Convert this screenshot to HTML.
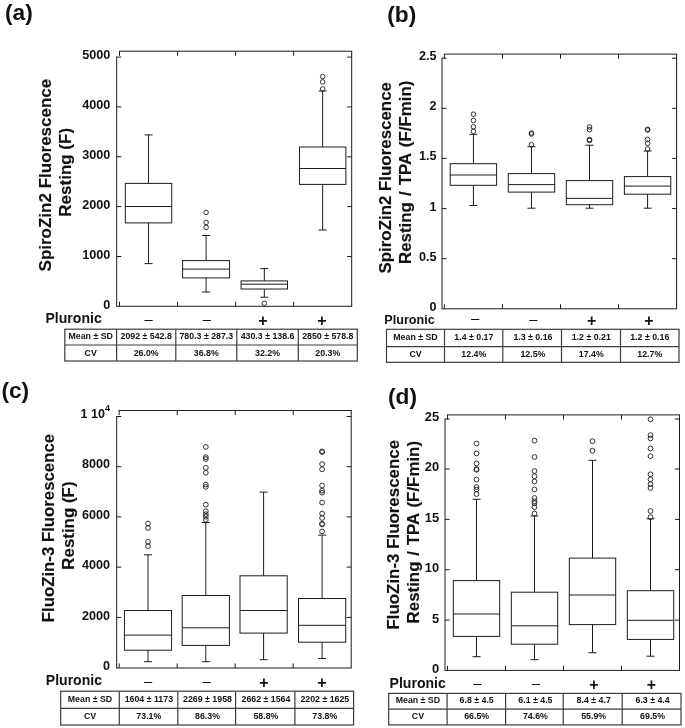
<!DOCTYPE html>
<html lang="en">
<head>
<meta charset="utf-8">
<title>Box plots: SpiroZin2 and FluoZin-3 fluorescence with and without Pluronic</title>
<style>
html,body{margin:0;padding:0;background:#fff;}
body{width:685px;height:728px;overflow:hidden;font-family:"Liberation Sans",Arial,sans-serif;}
svg{display:block;}
svg text{font-family:"Liberation Sans",Arial,sans-serif;}
</style>
</head>
<body>
<svg width="685" height="728" viewBox="0 0 685 728" font-family="'Liberation Sans', Arial, sans-serif" fill="#111">
<rect width="685" height="728" fill="#fff"/>
<g>
<line x1="116.7" y1="56.6" x2="116.7" y2="306.3" stroke="#1c1c1c" stroke-width="1"/>
<line x1="116.2" y1="306.3" x2="352.2" y2="306.3" stroke="#1c1c1c" stroke-width="1"/>
<line x1="119" y1="51.2" x2="352.2" y2="51.2" stroke="#1c1c1c" stroke-width="1"/>
<line x1="351.7" y1="51.2" x2="351.7" y2="306.3" stroke="#1c1c1c" stroke-width="1"/>
<line x1="119.5" y1="51.2" x2="119.5" y2="55.8" stroke="#1c1c1c" stroke-width="1"/>
<line x1="119.5" y1="306.3" x2="119.5" y2="301.7" stroke="#1c1c1c" stroke-width="1"/>
<line x1="177.55" y1="51.2" x2="177.55" y2="55.8" stroke="#1c1c1c" stroke-width="1"/>
<line x1="177.55" y1="306.3" x2="177.55" y2="301.7" stroke="#1c1c1c" stroke-width="1"/>
<line x1="235.6" y1="51.2" x2="235.6" y2="55.8" stroke="#1c1c1c" stroke-width="1"/>
<line x1="235.6" y1="306.3" x2="235.6" y2="301.7" stroke="#1c1c1c" stroke-width="1"/>
<line x1="293.65" y1="51.2" x2="293.65" y2="55.8" stroke="#1c1c1c" stroke-width="1"/>
<line x1="293.65" y1="306.3" x2="293.65" y2="301.7" stroke="#1c1c1c" stroke-width="1"/>
<line x1="116.7" y1="57.1" x2="121.3" y2="57.1" stroke="#1c1c1c" stroke-width="1"/>
<line x1="351.7" y1="57.1" x2="347.1" y2="57.1" stroke="#1c1c1c" stroke-width="1"/>
<text x="110.4" y="59" font-size="12.7" text-anchor="end" font-weight="bold">5000</text>
<line x1="116.7" y1="106.9" x2="121.3" y2="106.9" stroke="#1c1c1c" stroke-width="1"/>
<line x1="351.7" y1="106.9" x2="347.1" y2="106.9" stroke="#1c1c1c" stroke-width="1"/>
<text x="110.4" y="109" font-size="12.7" text-anchor="end" font-weight="bold">4000</text>
<line x1="116.7" y1="156.8" x2="121.3" y2="156.8" stroke="#1c1c1c" stroke-width="1"/>
<line x1="351.7" y1="156.8" x2="347.1" y2="156.8" stroke="#1c1c1c" stroke-width="1"/>
<text x="110.4" y="159" font-size="12.7" text-anchor="end" font-weight="bold">3000</text>
<line x1="116.7" y1="206.6" x2="121.3" y2="206.6" stroke="#1c1c1c" stroke-width="1"/>
<line x1="351.7" y1="206.6" x2="347.1" y2="206.6" stroke="#1c1c1c" stroke-width="1"/>
<text x="110.4" y="209" font-size="12.7" text-anchor="end" font-weight="bold">2000</text>
<line x1="116.7" y1="256.5" x2="121.3" y2="256.5" stroke="#1c1c1c" stroke-width="1"/>
<line x1="351.7" y1="256.5" x2="347.1" y2="256.5" stroke="#1c1c1c" stroke-width="1"/>
<text x="110.4" y="259" font-size="12.7" text-anchor="end" font-weight="bold">1000</text>
<text x="110.4" y="309" font-size="12.7" text-anchor="end" font-weight="bold">0</text>
<rect x="125.33" y="183.4" width="46.4" height="39.5" fill="#fff" stroke="#1c1c1c" stroke-width="1"/>
<line x1="125.33" y1="206.5" x2="171.72" y2="206.5" stroke="#1c1c1c" stroke-width="1"/>
<line x1="148.53" y1="183.4" x2="148.53" y2="134.9" stroke="#1c1c1c" stroke-width="1"/>
<line x1="148.53" y1="222.9" x2="148.53" y2="263.6" stroke="#1c1c1c" stroke-width="1"/>
<line x1="144.53" y1="134.9" x2="152.53" y2="134.9" stroke="#1c1c1c" stroke-width="1"/>
<line x1="144.53" y1="263.6" x2="152.53" y2="263.6" stroke="#1c1c1c" stroke-width="1"/>
<rect x="182.6" y="260.6" width="47" height="17.3" fill="#fff" stroke="#1c1c1c" stroke-width="1"/>
<line x1="182.6" y1="269.1" x2="229.6" y2="269.1" stroke="#1c1c1c" stroke-width="1"/>
<line x1="206.1" y1="260.6" x2="206.1" y2="235.5" stroke="#1c1c1c" stroke-width="1"/>
<line x1="206.1" y1="277.9" x2="206.1" y2="292" stroke="#1c1c1c" stroke-width="1"/>
<line x1="202.1" y1="235.5" x2="210.1" y2="235.5" stroke="#1c1c1c" stroke-width="1"/>
<line x1="202.1" y1="292" x2="210.1" y2="292" stroke="#1c1c1c" stroke-width="1"/>
<circle cx="206.1" cy="212.4" r="2.3" fill="none" stroke="#1c1c1c" stroke-width="0.9"/>
<circle cx="206.1" cy="222.5" r="2.3" fill="none" stroke="#1c1c1c" stroke-width="0.9"/>
<circle cx="206.1" cy="227.3" r="2.3" fill="none" stroke="#1c1c1c" stroke-width="0.9"/>
<rect x="241.1" y="280.9" width="46.4" height="8.1" fill="#fff" stroke="#1c1c1c" stroke-width="1"/>
<line x1="241.1" y1="284.2" x2="287.5" y2="284.2" stroke="#1c1c1c" stroke-width="1"/>
<line x1="264.3" y1="280.9" x2="264.3" y2="268.6" stroke="#1c1c1c" stroke-width="1"/>
<line x1="264.3" y1="289" x2="264.3" y2="297.2" stroke="#1c1c1c" stroke-width="1"/>
<line x1="260.3" y1="268.6" x2="268.3" y2="268.6" stroke="#1c1c1c" stroke-width="1"/>
<line x1="260.3" y1="297.2" x2="268.3" y2="297.2" stroke="#1c1c1c" stroke-width="1"/>
<circle cx="264.3" cy="303.3" r="2.3" fill="none" stroke="#1c1c1c" stroke-width="0.9"/>
<rect x="299.47" y="147" width="46.4" height="37.4" fill="#fff" stroke="#1c1c1c" stroke-width="1"/>
<line x1="299.47" y1="168.5" x2="345.87" y2="168.5" stroke="#1c1c1c" stroke-width="1"/>
<line x1="322.67" y1="147" x2="322.67" y2="91" stroke="#1c1c1c" stroke-width="1"/>
<line x1="322.67" y1="184.4" x2="322.67" y2="230" stroke="#1c1c1c" stroke-width="1"/>
<line x1="318.67" y1="91" x2="326.67" y2="91" stroke="#1c1c1c" stroke-width="1"/>
<line x1="318.67" y1="230" x2="326.67" y2="230" stroke="#1c1c1c" stroke-width="1"/>
<circle cx="322.67" cy="76.6" r="2.3" fill="none" stroke="#1c1c1c" stroke-width="0.9"/>
<circle cx="322.67" cy="81.9" r="2.3" fill="none" stroke="#1c1c1c" stroke-width="0.9"/>
<circle cx="322.67" cy="88.9" r="2.3" fill="none" stroke="#1c1c1c" stroke-width="0.9"/>
<text x="148.5" y="323.55" font-size="14.8" text-anchor="middle" font-weight="normal">–</text>
<text x="206.9" y="323.55" font-size="14.8" text-anchor="middle" font-weight="normal">–</text>
<text x="262.9" y="326" font-size="16" text-anchor="middle" font-weight="bold">+</text>
<text x="322" y="326" font-size="16" text-anchor="middle" font-weight="bold">+</text>
<text x="45.5" y="323.4" font-size="14.05" text-anchor="start" font-weight="bold">Pluronic</text>
<text transform="translate(50.6 175.1) rotate(-90)" font-size="17" text-anchor="middle" font-weight="bold" stroke="#111" stroke-width="0.12">SpiroZin2 Fluorescence</text>
<text transform="translate(70.5 172.3) rotate(-90)" font-size="17" text-anchor="middle" font-weight="bold" stroke="#111" stroke-width="0.12">Resting (F)</text>
<text x="5" y="19.9" font-size="22.7" text-anchor="start" font-weight="bold">(a)</text>
<rect x="64.8" y="329.2" width="292.5" height="31.8" fill="#fff" stroke="#3c3c3c" stroke-width="1.2"/>
<line x1="116.6" y1="329.2" x2="116.6" y2="361" stroke="#3c3c3c" stroke-width="1.2"/>
<line x1="175.8" y1="329.2" x2="175.8" y2="361" stroke="#3c3c3c" stroke-width="1.2"/>
<line x1="236.8" y1="329.2" x2="236.8" y2="361" stroke="#3c3c3c" stroke-width="1.2"/>
<line x1="298.3" y1="329.2" x2="298.3" y2="361" stroke="#3c3c3c" stroke-width="1.2"/>
<line x1="64.8" y1="345" x2="357.3" y2="345" stroke="#3c3c3c" stroke-width="1.2"/>
<text x="90.7" y="339.3" font-size="8.8" text-anchor="middle" font-weight="bold">Mean ± SD</text>
<text x="146.2" y="339.3" font-size="8.8" text-anchor="middle" font-weight="bold">2092 ± 542.8</text>
<text x="206.3" y="339.3" font-size="8.8" text-anchor="middle" font-weight="bold">780.3 ± 287.3</text>
<text x="267.55" y="339.3" font-size="8.8" text-anchor="middle" font-weight="bold">430.3 ± 138.6</text>
<text x="327.8" y="339.3" font-size="8.8" text-anchor="middle" font-weight="bold">2850 ± 578.8</text>
<text x="90.7" y="355.8" font-size="8.8" text-anchor="middle" font-weight="bold">CV</text>
<text x="146.2" y="355.8" font-size="8.8" text-anchor="middle" font-weight="bold">26.0%</text>
<text x="206.3" y="355.8" font-size="8.8" text-anchor="middle" font-weight="bold">36.8%</text>
<text x="267.55" y="355.8" font-size="8.8" text-anchor="middle" font-weight="bold">32.2%</text>
<text x="327.8" y="355.8" font-size="8.8" text-anchor="middle" font-weight="bold">20.3%</text>
</g>
<g>
<line x1="442" y1="57.7" x2="442" y2="308.8" stroke="#1c1c1c" stroke-width="1"/>
<line x1="441.5" y1="308.8" x2="677.1" y2="308.8" stroke="#1c1c1c" stroke-width="1"/>
<line x1="443.9" y1="54.1" x2="677.1" y2="54.1" stroke="#1c1c1c" stroke-width="1"/>
<line x1="676.6" y1="54.1" x2="676.6" y2="308.8" stroke="#1c1c1c" stroke-width="1"/>
<line x1="444.4" y1="54.1" x2="444.4" y2="58.7" stroke="#1c1c1c" stroke-width="1"/>
<line x1="444.4" y1="308.8" x2="444.4" y2="304.2" stroke="#1c1c1c" stroke-width="1"/>
<line x1="502.45" y1="54.1" x2="502.45" y2="58.7" stroke="#1c1c1c" stroke-width="1"/>
<line x1="502.45" y1="308.8" x2="502.45" y2="304.2" stroke="#1c1c1c" stroke-width="1"/>
<line x1="560.5" y1="54.1" x2="560.5" y2="58.7" stroke="#1c1c1c" stroke-width="1"/>
<line x1="560.5" y1="308.8" x2="560.5" y2="304.2" stroke="#1c1c1c" stroke-width="1"/>
<line x1="618.55" y1="54.1" x2="618.55" y2="58.7" stroke="#1c1c1c" stroke-width="1"/>
<line x1="618.55" y1="308.8" x2="618.55" y2="304.2" stroke="#1c1c1c" stroke-width="1"/>
<line x1="442" y1="58.2" x2="446.6" y2="58.2" stroke="#1c1c1c" stroke-width="1"/>
<line x1="676.6" y1="58.2" x2="672" y2="58.2" stroke="#1c1c1c" stroke-width="1"/>
<text x="436.4" y="60" font-size="12.6" text-anchor="end" font-weight="bold">2.5</text>
<line x1="442" y1="108.3" x2="446.6" y2="108.3" stroke="#1c1c1c" stroke-width="1"/>
<line x1="676.6" y1="108.3" x2="672" y2="108.3" stroke="#1c1c1c" stroke-width="1"/>
<text x="436.4" y="110" font-size="12.6" text-anchor="end" font-weight="bold">2</text>
<line x1="442" y1="158.4" x2="446.6" y2="158.4" stroke="#1c1c1c" stroke-width="1"/>
<line x1="676.6" y1="158.4" x2="672" y2="158.4" stroke="#1c1c1c" stroke-width="1"/>
<text x="436.4" y="160" font-size="12.6" text-anchor="end" font-weight="bold">1.5</text>
<line x1="442" y1="208.6" x2="446.6" y2="208.6" stroke="#1c1c1c" stroke-width="1"/>
<line x1="676.6" y1="208.6" x2="672" y2="208.6" stroke="#1c1c1c" stroke-width="1"/>
<text x="436.4" y="211" font-size="12.6" text-anchor="end" font-weight="bold">1</text>
<line x1="442" y1="258.7" x2="446.6" y2="258.7" stroke="#1c1c1c" stroke-width="1"/>
<line x1="676.6" y1="258.7" x2="672" y2="258.7" stroke="#1c1c1c" stroke-width="1"/>
<text x="436.4" y="261" font-size="12.6" text-anchor="end" font-weight="bold">0.5</text>
<text x="436.4" y="311" font-size="12.6" text-anchor="end" font-weight="bold">0</text>
<rect x="450.22" y="163.7" width="46.4" height="21.6" fill="#fff" stroke="#1c1c1c" stroke-width="1"/>
<line x1="450.22" y1="175" x2="496.62" y2="175" stroke="#1c1c1c" stroke-width="1"/>
<line x1="473.42" y1="163.7" x2="473.42" y2="134.3" stroke="#1c1c1c" stroke-width="1"/>
<line x1="473.42" y1="185.3" x2="473.42" y2="205.5" stroke="#1c1c1c" stroke-width="1"/>
<line x1="469.42" y1="134.3" x2="477.42" y2="134.3" stroke="#1c1c1c" stroke-width="1"/>
<line x1="469.42" y1="205.5" x2="477.42" y2="205.5" stroke="#1c1c1c" stroke-width="1"/>
<circle cx="473.42" cy="114.2" r="2.3" fill="none" stroke="#1c1c1c" stroke-width="0.9"/>
<circle cx="473.42" cy="120.5" r="2.3" fill="none" stroke="#1c1c1c" stroke-width="0.9"/>
<circle cx="473.42" cy="126.8" r="2.3" fill="none" stroke="#1c1c1c" stroke-width="0.9"/>
<circle cx="473.42" cy="131.3" r="2.3" fill="none" stroke="#1c1c1c" stroke-width="0.9"/>
<rect x="508.28" y="173.6" width="46.4" height="18.5" fill="#fff" stroke="#1c1c1c" stroke-width="1"/>
<line x1="508.28" y1="184.6" x2="554.68" y2="184.6" stroke="#1c1c1c" stroke-width="1"/>
<line x1="531.48" y1="173.6" x2="531.48" y2="146.7" stroke="#1c1c1c" stroke-width="1"/>
<line x1="531.48" y1="192.1" x2="531.48" y2="208.2" stroke="#1c1c1c" stroke-width="1"/>
<line x1="527.48" y1="146.7" x2="535.48" y2="146.7" stroke="#1c1c1c" stroke-width="1"/>
<line x1="527.48" y1="208.2" x2="535.48" y2="208.2" stroke="#1c1c1c" stroke-width="1"/>
<circle cx="531.48" cy="133" r="2.3" fill="none" stroke="#1c1c1c" stroke-width="0.9"/>
<circle cx="531.48" cy="134" r="2.3" fill="none" stroke="#1c1c1c" stroke-width="0.9"/>
<circle cx="531.48" cy="144.7" r="2.3" fill="none" stroke="#1c1c1c" stroke-width="0.9"/>
<rect x="566.32" y="180.6" width="46.4" height="24.1" fill="#fff" stroke="#1c1c1c" stroke-width="1"/>
<line x1="566.32" y1="198.4" x2="612.73" y2="198.4" stroke="#1c1c1c" stroke-width="1"/>
<line x1="589.52" y1="180.6" x2="589.52" y2="145.2" stroke="#1c1c1c" stroke-width="1"/>
<line x1="589.52" y1="204.7" x2="589.52" y2="208.2" stroke="#1c1c1c" stroke-width="1"/>
<line x1="585.52" y1="145.2" x2="593.52" y2="145.2" stroke="#1c1c1c" stroke-width="1"/>
<line x1="585.52" y1="208.2" x2="593.52" y2="208.2" stroke="#1c1c1c" stroke-width="1"/>
<circle cx="589.52" cy="127" r="2.3" fill="none" stroke="#1c1c1c" stroke-width="0.9"/>
<circle cx="589.52" cy="129.7" r="2.3" fill="none" stroke="#1c1c1c" stroke-width="0.9"/>
<circle cx="589.52" cy="139.5" r="2.3" fill="none" stroke="#1c1c1c" stroke-width="0.9"/>
<circle cx="589.52" cy="140.5" r="2.3" fill="none" stroke="#1c1c1c" stroke-width="0.9"/>
<rect x="624.38" y="176.6" width="46.4" height="17.6" fill="#fff" stroke="#1c1c1c" stroke-width="1"/>
<line x1="624.38" y1="186.1" x2="670.78" y2="186.1" stroke="#1c1c1c" stroke-width="1"/>
<line x1="647.58" y1="176.6" x2="647.58" y2="151" stroke="#1c1c1c" stroke-width="1"/>
<line x1="647.58" y1="194.2" x2="647.58" y2="208.2" stroke="#1c1c1c" stroke-width="1"/>
<line x1="643.58" y1="151" x2="651.58" y2="151" stroke="#1c1c1c" stroke-width="1"/>
<line x1="643.58" y1="208.2" x2="651.58" y2="208.2" stroke="#1c1c1c" stroke-width="1"/>
<circle cx="647.58" cy="129.3" r="2.3" fill="none" stroke="#1c1c1c" stroke-width="0.9"/>
<circle cx="647.58" cy="130" r="2.3" fill="none" stroke="#1c1c1c" stroke-width="0.9"/>
<circle cx="647.58" cy="139.4" r="2.3" fill="none" stroke="#1c1c1c" stroke-width="0.9"/>
<circle cx="647.58" cy="143.4" r="2.3" fill="none" stroke="#1c1c1c" stroke-width="0.9"/>
<circle cx="647.58" cy="149" r="2.3" fill="none" stroke="#1c1c1c" stroke-width="0.9"/>
<text x="475.1" y="323.45" font-size="14.8" text-anchor="middle" font-weight="normal">–</text>
<text x="533.4" y="324.15" font-size="14.8" text-anchor="middle" font-weight="normal">–</text>
<text x="591.7" y="325.5" font-size="16" text-anchor="middle" font-weight="bold">+</text>
<text x="648.8" y="326.3" font-size="16" text-anchor="middle" font-weight="bold">+</text>
<text x="384.3" y="323.7" font-size="12.6" text-anchor="start" font-weight="bold">Pluronic</text>
<text transform="translate(391.4 177.8) rotate(-90)" font-size="16.9" text-anchor="middle" font-weight="bold" stroke="#111" stroke-width="0.12">SpiroZin2 Fluorescence</text>
<text transform="translate(411.1 172.35) rotate(-90)" font-size="16.9" text-anchor="middle" font-weight="bold" stroke="#111" stroke-width="0.12" word-spacing="1.4">Resting / TPA (F/Fmin)</text>
<text x="387.3" y="22" font-size="22.7" text-anchor="start" font-weight="bold">(b)</text>
<rect x="386.5" y="329.3" width="292.5" height="33" fill="#fff" stroke="#3c3c3c" stroke-width="1.2"/>
<line x1="444.5" y1="329.3" x2="444.5" y2="362.3" stroke="#3c3c3c" stroke-width="1.2"/>
<line x1="502.8" y1="329.3" x2="502.8" y2="362.3" stroke="#3c3c3c" stroke-width="1.2"/>
<line x1="561.5" y1="329.3" x2="561.5" y2="362.3" stroke="#3c3c3c" stroke-width="1.2"/>
<line x1="620.5" y1="329.3" x2="620.5" y2="362.3" stroke="#3c3c3c" stroke-width="1.2"/>
<line x1="386.5" y1="346.7" x2="679" y2="346.7" stroke="#3c3c3c" stroke-width="1.2"/>
<text x="415.5" y="339.6" font-size="8.8" text-anchor="middle" font-weight="bold">Mean ± SD</text>
<text x="473.85" y="339.6" font-size="8.8" text-anchor="middle" font-weight="bold">1.4 ± 0.17</text>
<text x="532.95" y="339.6" font-size="8.8" text-anchor="middle" font-weight="bold">1.3 ± 0.16</text>
<text x="591.3" y="339.6" font-size="8.8" text-anchor="middle" font-weight="bold">1.2 ± 0.21</text>
<text x="649.75" y="339.6" font-size="8.8" text-anchor="middle" font-weight="bold">1.2 ± 0.16</text>
<text x="415.5" y="356.7" font-size="8.8" text-anchor="middle" font-weight="bold">CV</text>
<text x="473.85" y="356.7" font-size="8.8" text-anchor="middle" font-weight="bold">12.4%</text>
<text x="532.95" y="356.7" font-size="8.8" text-anchor="middle" font-weight="bold">12.5%</text>
<text x="591.3" y="356.7" font-size="8.8" text-anchor="middle" font-weight="bold">17.4%</text>
<text x="649.75" y="356.7" font-size="8.8" text-anchor="middle" font-weight="bold">12.7%</text>
</g>
<g>
<line x1="116.7" y1="416" x2="116.7" y2="668" stroke="#1c1c1c" stroke-width="1"/>
<line x1="116.2" y1="668" x2="351.7" y2="668" stroke="#1c1c1c" stroke-width="1"/>
<line x1="118.7" y1="410.5" x2="351.7" y2="410.5" stroke="#1c1c1c" stroke-width="1"/>
<line x1="351.2" y1="410.5" x2="351.2" y2="668" stroke="#1c1c1c" stroke-width="1"/>
<line x1="119.2" y1="410.5" x2="119.2" y2="415.1" stroke="#1c1c1c" stroke-width="1"/>
<line x1="119.2" y1="668" x2="119.2" y2="663.4" stroke="#1c1c1c" stroke-width="1"/>
<line x1="177.2" y1="410.5" x2="177.2" y2="415.1" stroke="#1c1c1c" stroke-width="1"/>
<line x1="177.2" y1="668" x2="177.2" y2="663.4" stroke="#1c1c1c" stroke-width="1"/>
<line x1="235.2" y1="410.5" x2="235.2" y2="415.1" stroke="#1c1c1c" stroke-width="1"/>
<line x1="235.2" y1="668" x2="235.2" y2="663.4" stroke="#1c1c1c" stroke-width="1"/>
<line x1="293.2" y1="410.5" x2="293.2" y2="415.1" stroke="#1c1c1c" stroke-width="1"/>
<line x1="293.2" y1="668" x2="293.2" y2="663.4" stroke="#1c1c1c" stroke-width="1"/>
<line x1="116.7" y1="416.5" x2="121.3" y2="416.5" stroke="#1c1c1c" stroke-width="1"/>
<line x1="351.2" y1="416.5" x2="346.6" y2="416.5" stroke="#1c1c1c" stroke-width="1"/>
<text x="110" y="418" font-size="12.6" text-anchor="end" font-weight="bold">1 10<tspan dy="-6.6" font-size="9.1">4</tspan></text>
<line x1="116.7" y1="466.7" x2="121.3" y2="466.7" stroke="#1c1c1c" stroke-width="1"/>
<line x1="351.2" y1="466.7" x2="346.6" y2="466.7" stroke="#1c1c1c" stroke-width="1"/>
<text x="110" y="468" font-size="12.6" text-anchor="end" font-weight="bold">8000</text>
<line x1="116.7" y1="516.9" x2="121.3" y2="516.9" stroke="#1c1c1c" stroke-width="1"/>
<line x1="351.2" y1="516.9" x2="346.6" y2="516.9" stroke="#1c1c1c" stroke-width="1"/>
<text x="110" y="519" font-size="12.6" text-anchor="end" font-weight="bold">6000</text>
<line x1="116.7" y1="567.1" x2="121.3" y2="567.1" stroke="#1c1c1c" stroke-width="1"/>
<line x1="351.2" y1="567.1" x2="346.6" y2="567.1" stroke="#1c1c1c" stroke-width="1"/>
<text x="110" y="569" font-size="12.6" text-anchor="end" font-weight="bold">4000</text>
<line x1="116.7" y1="617.4" x2="121.3" y2="617.4" stroke="#1c1c1c" stroke-width="1"/>
<line x1="351.2" y1="617.4" x2="346.6" y2="617.4" stroke="#1c1c1c" stroke-width="1"/>
<text x="110" y="620" font-size="12.6" text-anchor="end" font-weight="bold">2000</text>
<text x="110" y="670" font-size="12.6" text-anchor="end" font-weight="bold">0</text>
<rect x="124.4" y="610.5" width="47.2" height="39.7" fill="#fff" stroke="#1c1c1c" stroke-width="1"/>
<line x1="124.4" y1="635.1" x2="171.6" y2="635.1" stroke="#1c1c1c" stroke-width="1"/>
<line x1="148" y1="610.5" x2="148" y2="554.8" stroke="#1c1c1c" stroke-width="1"/>
<line x1="148" y1="650.2" x2="148" y2="661.7" stroke="#1c1c1c" stroke-width="1"/>
<line x1="144" y1="554.8" x2="152" y2="554.8" stroke="#1c1c1c" stroke-width="1"/>
<line x1="144" y1="661.7" x2="152" y2="661.7" stroke="#1c1c1c" stroke-width="1"/>
<circle cx="148" cy="523.5" r="2.4" fill="none" stroke="#1c1c1c" stroke-width="0.9"/>
<circle cx="148" cy="528" r="2.4" fill="none" stroke="#1c1c1c" stroke-width="0.9"/>
<circle cx="148" cy="541.9" r="2.4" fill="none" stroke="#1c1c1c" stroke-width="0.9"/>
<circle cx="148" cy="546.1" r="2.4" fill="none" stroke="#1c1c1c" stroke-width="0.9"/>
<rect x="182.2" y="595.5" width="47.2" height="49.9" fill="#fff" stroke="#1c1c1c" stroke-width="1"/>
<line x1="182.2" y1="627.8" x2="229.4" y2="627.8" stroke="#1c1c1c" stroke-width="1"/>
<line x1="205.8" y1="595.5" x2="205.8" y2="522.5" stroke="#1c1c1c" stroke-width="1"/>
<line x1="205.8" y1="645.4" x2="205.8" y2="661.7" stroke="#1c1c1c" stroke-width="1"/>
<line x1="201.8" y1="522.5" x2="209.8" y2="522.5" stroke="#1c1c1c" stroke-width="1"/>
<line x1="201.8" y1="661.7" x2="209.8" y2="661.7" stroke="#1c1c1c" stroke-width="1"/>
<circle cx="205.8" cy="446.9" r="2.4" fill="none" stroke="#1c1c1c" stroke-width="0.9"/>
<circle cx="205.8" cy="457.2" r="2.4" fill="none" stroke="#1c1c1c" stroke-width="0.9"/>
<circle cx="205.8" cy="459" r="2.4" fill="none" stroke="#1c1c1c" stroke-width="0.9"/>
<circle cx="205.8" cy="467.8" r="2.4" fill="none" stroke="#1c1c1c" stroke-width="0.9"/>
<circle cx="205.8" cy="472.8" r="2.4" fill="none" stroke="#1c1c1c" stroke-width="0.9"/>
<circle cx="205.8" cy="484.6" r="2.4" fill="none" stroke="#1c1c1c" stroke-width="0.9"/>
<circle cx="205.8" cy="486.9" r="2.4" fill="none" stroke="#1c1c1c" stroke-width="0.9"/>
<circle cx="205.8" cy="504.7" r="2.4" fill="none" stroke="#1c1c1c" stroke-width="0.9"/>
<circle cx="205.8" cy="511.2" r="2.4" fill="none" stroke="#1c1c1c" stroke-width="0.9"/>
<circle cx="205.8" cy="514.2" r="2.4" fill="none" stroke="#1c1c1c" stroke-width="0.9"/>
<circle cx="205.8" cy="516.7" r="2.4" fill="none" stroke="#1c1c1c" stroke-width="0.9"/>
<circle cx="205.8" cy="519.8" r="2.4" fill="none" stroke="#1c1c1c" stroke-width="0.9"/>
<rect x="240" y="575.8" width="47.2" height="57.3" fill="#fff" stroke="#1c1c1c" stroke-width="1"/>
<line x1="240" y1="610.5" x2="287.2" y2="610.5" stroke="#1c1c1c" stroke-width="1"/>
<line x1="263.6" y1="575.8" x2="263.6" y2="492.1" stroke="#1c1c1c" stroke-width="1"/>
<line x1="263.6" y1="633.1" x2="263.6" y2="659.7" stroke="#1c1c1c" stroke-width="1"/>
<line x1="259.6" y1="492.1" x2="267.6" y2="492.1" stroke="#1c1c1c" stroke-width="1"/>
<line x1="259.6" y1="659.7" x2="267.6" y2="659.7" stroke="#1c1c1c" stroke-width="1"/>
<rect x="298.5" y="598.5" width="47.2" height="43.7" fill="#fff" stroke="#1c1c1c" stroke-width="1"/>
<line x1="298.5" y1="625.3" x2="345.7" y2="625.3" stroke="#1c1c1c" stroke-width="1"/>
<line x1="322.1" y1="598.5" x2="322.1" y2="535.1" stroke="#1c1c1c" stroke-width="1"/>
<line x1="322.1" y1="642.2" x2="322.1" y2="658.5" stroke="#1c1c1c" stroke-width="1"/>
<line x1="318.1" y1="535.1" x2="326.1" y2="535.1" stroke="#1c1c1c" stroke-width="1"/>
<line x1="318.1" y1="658.5" x2="326.1" y2="658.5" stroke="#1c1c1c" stroke-width="1"/>
<circle cx="322.1" cy="451.4" r="2.4" fill="none" stroke="#1c1c1c" stroke-width="0.9"/>
<circle cx="322.1" cy="452" r="2.4" fill="none" stroke="#1c1c1c" stroke-width="0.9"/>
<circle cx="322.1" cy="464.1" r="2.4" fill="none" stroke="#1c1c1c" stroke-width="0.9"/>
<circle cx="322.1" cy="469.3" r="2.4" fill="none" stroke="#1c1c1c" stroke-width="0.9"/>
<circle cx="322.1" cy="485.5" r="2.4" fill="none" stroke="#1c1c1c" stroke-width="0.9"/>
<circle cx="322.1" cy="490.7" r="2.4" fill="none" stroke="#1c1c1c" stroke-width="0.9"/>
<circle cx="322.1" cy="492.7" r="2.4" fill="none" stroke="#1c1c1c" stroke-width="0.9"/>
<circle cx="322.1" cy="502.6" r="2.4" fill="none" stroke="#1c1c1c" stroke-width="0.9"/>
<circle cx="322.1" cy="513.6" r="2.4" fill="none" stroke="#1c1c1c" stroke-width="0.9"/>
<circle cx="322.1" cy="518" r="2.4" fill="none" stroke="#1c1c1c" stroke-width="0.9"/>
<circle cx="322.1" cy="523.8" r="2.4" fill="none" stroke="#1c1c1c" stroke-width="0.9"/>
<circle cx="322.1" cy="524.4" r="2.4" fill="none" stroke="#1c1c1c" stroke-width="0.9"/>
<circle cx="322.1" cy="531.4" r="2.4" fill="none" stroke="#1c1c1c" stroke-width="0.9"/>
<text x="148" y="685.65" font-size="14.8" text-anchor="middle" font-weight="normal">–</text>
<text x="206.5" y="685.65" font-size="14.8" text-anchor="middle" font-weight="normal">–</text>
<text x="263.9" y="688.3" font-size="16" text-anchor="middle" font-weight="bold">+</text>
<text x="321.9" y="688.3" font-size="16" text-anchor="middle" font-weight="bold">+</text>
<text x="45.8" y="684.8" font-size="14.05" text-anchor="start" font-weight="bold">Pluronic</text>
<text transform="translate(54.1 528.1) rotate(-90)" font-size="16.8" text-anchor="middle" font-weight="bold" stroke="#111" stroke-width="0.12">FluoZin-3 Fluorescence</text>
<text transform="translate(73.5 525.6) rotate(-90)" font-size="16.9" text-anchor="middle" font-weight="bold" stroke="#111" stroke-width="0.12">Resting (F)</text>
<text x="1.4" y="398.3" font-size="22.7" text-anchor="start" font-weight="bold">(c)</text>
<rect x="60.7" y="691.2" width="292.9" height="33.8" fill="#fff" stroke="#3c3c3c" stroke-width="1.2"/>
<line x1="119.3" y1="691.2" x2="119.3" y2="725" stroke="#3c3c3c" stroke-width="1.2"/>
<line x1="177.8" y1="691.2" x2="177.8" y2="725" stroke="#3c3c3c" stroke-width="1.2"/>
<line x1="235.6" y1="691.2" x2="235.6" y2="725" stroke="#3c3c3c" stroke-width="1.2"/>
<line x1="294.9" y1="691.2" x2="294.9" y2="725" stroke="#3c3c3c" stroke-width="1.2"/>
<line x1="60.7" y1="708.4" x2="353.6" y2="708.4" stroke="#3c3c3c" stroke-width="1.2"/>
<text x="90" y="701.9" font-size="8.8" text-anchor="middle" font-weight="bold">Mean ± SD</text>
<text x="148.85" y="701.9" font-size="8.8" text-anchor="middle" font-weight="bold">1604 ± 1173</text>
<text x="207.5" y="701.9" font-size="8.8" text-anchor="middle" font-weight="bold">2269 ± 1958</text>
<text x="265.95" y="701.9" font-size="8.8" text-anchor="middle" font-weight="bold">2662 ± 1564</text>
<text x="324.85" y="701.9" font-size="8.8" text-anchor="middle" font-weight="bold">2202 ± 1625</text>
<text x="90" y="719.4" font-size="8.8" text-anchor="middle" font-weight="bold">CV</text>
<text x="148.85" y="719.4" font-size="8.8" text-anchor="middle" font-weight="bold">73.1%</text>
<text x="207.5" y="719.4" font-size="8.8" text-anchor="middle" font-weight="bold">86.3%</text>
<text x="265.95" y="719.4" font-size="8.8" text-anchor="middle" font-weight="bold">58.8%</text>
<text x="324.85" y="719.4" font-size="8.8" text-anchor="middle" font-weight="bold">73.8%</text>
</g>
<g>
<line x1="445" y1="418.5" x2="445" y2="670.4" stroke="#1c1c1c" stroke-width="1"/>
<line x1="444.5" y1="670.4" x2="680" y2="670.4" stroke="#1c1c1c" stroke-width="1"/>
<line x1="447" y1="414.9" x2="680" y2="414.9" stroke="#1c1c1c" stroke-width="1"/>
<line x1="679.5" y1="414.9" x2="679.5" y2="670.4" stroke="#1c1c1c" stroke-width="1"/>
<line x1="447.5" y1="414.9" x2="447.5" y2="419.5" stroke="#1c1c1c" stroke-width="1"/>
<line x1="447.5" y1="670.4" x2="447.5" y2="665.8" stroke="#1c1c1c" stroke-width="1"/>
<line x1="505.5" y1="414.9" x2="505.5" y2="419.5" stroke="#1c1c1c" stroke-width="1"/>
<line x1="505.5" y1="670.4" x2="505.5" y2="665.8" stroke="#1c1c1c" stroke-width="1"/>
<line x1="563.5" y1="414.9" x2="563.5" y2="419.5" stroke="#1c1c1c" stroke-width="1"/>
<line x1="563.5" y1="670.4" x2="563.5" y2="665.8" stroke="#1c1c1c" stroke-width="1"/>
<line x1="621.5" y1="414.9" x2="621.5" y2="419.5" stroke="#1c1c1c" stroke-width="1"/>
<line x1="621.5" y1="670.4" x2="621.5" y2="665.8" stroke="#1c1c1c" stroke-width="1"/>
<line x1="445" y1="419" x2="449.6" y2="419" stroke="#1c1c1c" stroke-width="1"/>
<line x1="679.5" y1="419" x2="674.9" y2="419" stroke="#1c1c1c" stroke-width="1"/>
<text x="439.1" y="421" font-size="12.9" text-anchor="end" font-weight="bold">25</text>
<line x1="445" y1="469" x2="449.6" y2="469" stroke="#1c1c1c" stroke-width="1"/>
<line x1="679.5" y1="469" x2="674.9" y2="469" stroke="#1c1c1c" stroke-width="1"/>
<text x="439.1" y="471" font-size="12.9" text-anchor="end" font-weight="bold">20</text>
<line x1="445" y1="519.4" x2="449.6" y2="519.4" stroke="#1c1c1c" stroke-width="1"/>
<line x1="679.5" y1="519.4" x2="674.9" y2="519.4" stroke="#1c1c1c" stroke-width="1"/>
<text x="439.1" y="522" font-size="12.9" text-anchor="end" font-weight="bold">15</text>
<line x1="445" y1="569.7" x2="449.6" y2="569.7" stroke="#1c1c1c" stroke-width="1"/>
<line x1="679.5" y1="569.7" x2="674.9" y2="569.7" stroke="#1c1c1c" stroke-width="1"/>
<text x="439.1" y="572" font-size="12.9" text-anchor="end" font-weight="bold">10</text>
<line x1="445" y1="620.1" x2="449.6" y2="620.1" stroke="#1c1c1c" stroke-width="1"/>
<line x1="679.5" y1="620.1" x2="674.9" y2="620.1" stroke="#1c1c1c" stroke-width="1"/>
<text x="439.1" y="623" font-size="12.9" text-anchor="end" font-weight="bold">5</text>
<text x="439.1" y="673" font-size="12.9" text-anchor="end" font-weight="bold">0</text>
<rect x="453.3" y="580.6" width="46.4" height="55.8" fill="#fff" stroke="#1c1c1c" stroke-width="1"/>
<line x1="453.3" y1="614" x2="499.7" y2="614" stroke="#1c1c1c" stroke-width="1"/>
<line x1="476.5" y1="580.6" x2="476.5" y2="499.3" stroke="#1c1c1c" stroke-width="1"/>
<line x1="476.5" y1="636.4" x2="476.5" y2="656.7" stroke="#1c1c1c" stroke-width="1"/>
<line x1="472.5" y1="499.3" x2="480.5" y2="499.3" stroke="#1c1c1c" stroke-width="1"/>
<line x1="472.5" y1="656.7" x2="480.5" y2="656.7" stroke="#1c1c1c" stroke-width="1"/>
<circle cx="476.5" cy="443.6" r="2.4" fill="none" stroke="#1c1c1c" stroke-width="0.9"/>
<circle cx="476.5" cy="453.4" r="2.4" fill="none" stroke="#1c1c1c" stroke-width="0.9"/>
<circle cx="476.5" cy="463.4" r="2.4" fill="none" stroke="#1c1c1c" stroke-width="0.9"/>
<circle cx="476.5" cy="469.1" r="2.4" fill="none" stroke="#1c1c1c" stroke-width="0.9"/>
<circle cx="476.5" cy="469.8" r="2.4" fill="none" stroke="#1c1c1c" stroke-width="0.9"/>
<circle cx="476.5" cy="479.5" r="2.4" fill="none" stroke="#1c1c1c" stroke-width="0.9"/>
<circle cx="476.5" cy="487" r="2.4" fill="none" stroke="#1c1c1c" stroke-width="0.9"/>
<circle cx="476.5" cy="489.5" r="2.4" fill="none" stroke="#1c1c1c" stroke-width="0.9"/>
<circle cx="476.5" cy="494" r="2.4" fill="none" stroke="#1c1c1c" stroke-width="0.9"/>
<rect x="511.3" y="592.2" width="46.4" height="52" fill="#fff" stroke="#1c1c1c" stroke-width="1"/>
<line x1="511.3" y1="625.8" x2="557.7" y2="625.8" stroke="#1c1c1c" stroke-width="1"/>
<line x1="534.5" y1="592.2" x2="534.5" y2="516" stroke="#1c1c1c" stroke-width="1"/>
<line x1="534.5" y1="644.2" x2="534.5" y2="659.7" stroke="#1c1c1c" stroke-width="1"/>
<line x1="530.5" y1="516" x2="538.5" y2="516" stroke="#1c1c1c" stroke-width="1"/>
<line x1="530.5" y1="659.7" x2="538.5" y2="659.7" stroke="#1c1c1c" stroke-width="1"/>
<circle cx="534.5" cy="440.6" r="2.4" fill="none" stroke="#1c1c1c" stroke-width="0.9"/>
<circle cx="534.5" cy="457" r="2.4" fill="none" stroke="#1c1c1c" stroke-width="0.9"/>
<circle cx="534.5" cy="471" r="2.4" fill="none" stroke="#1c1c1c" stroke-width="0.9"/>
<circle cx="534.5" cy="476.3" r="2.4" fill="none" stroke="#1c1c1c" stroke-width="0.9"/>
<circle cx="534.5" cy="481.4" r="2.4" fill="none" stroke="#1c1c1c" stroke-width="0.9"/>
<circle cx="534.5" cy="489.4" r="2.4" fill="none" stroke="#1c1c1c" stroke-width="0.9"/>
<circle cx="534.5" cy="498" r="2.4" fill="none" stroke="#1c1c1c" stroke-width="0.9"/>
<circle cx="534.5" cy="501.3" r="2.4" fill="none" stroke="#1c1c1c" stroke-width="0.9"/>
<circle cx="534.5" cy="503.2" r="2.4" fill="none" stroke="#1c1c1c" stroke-width="0.9"/>
<circle cx="534.5" cy="507.2" r="2.4" fill="none" stroke="#1c1c1c" stroke-width="0.9"/>
<circle cx="534.5" cy="513.5" r="2.4" fill="none" stroke="#1c1c1c" stroke-width="0.9"/>
<rect x="569.3" y="558.1" width="46.4" height="66.5" fill="#fff" stroke="#1c1c1c" stroke-width="1"/>
<line x1="569.3" y1="595" x2="615.7" y2="595" stroke="#1c1c1c" stroke-width="1"/>
<line x1="592.5" y1="558.1" x2="592.5" y2="460.3" stroke="#1c1c1c" stroke-width="1"/>
<line x1="592.5" y1="624.6" x2="592.5" y2="652.7" stroke="#1c1c1c" stroke-width="1"/>
<line x1="588.5" y1="460.3" x2="596.5" y2="460.3" stroke="#1c1c1c" stroke-width="1"/>
<line x1="588.5" y1="652.7" x2="596.5" y2="652.7" stroke="#1c1c1c" stroke-width="1"/>
<circle cx="592.5" cy="441.2" r="2.4" fill="none" stroke="#1c1c1c" stroke-width="0.9"/>
<circle cx="592.5" cy="450.7" r="2.4" fill="none" stroke="#1c1c1c" stroke-width="0.9"/>
<rect x="627.3" y="590.7" width="46.4" height="48.7" fill="#fff" stroke="#1c1c1c" stroke-width="1"/>
<line x1="627.3" y1="620.3" x2="673.7" y2="620.3" stroke="#1c1c1c" stroke-width="1"/>
<line x1="650.5" y1="590.7" x2="650.5" y2="518.8" stroke="#1c1c1c" stroke-width="1"/>
<line x1="650.5" y1="639.4" x2="650.5" y2="656.2" stroke="#1c1c1c" stroke-width="1"/>
<line x1="646.5" y1="518.8" x2="654.5" y2="518.8" stroke="#1c1c1c" stroke-width="1"/>
<line x1="646.5" y1="656.2" x2="654.5" y2="656.2" stroke="#1c1c1c" stroke-width="1"/>
<circle cx="650.5" cy="419.3" r="2.4" fill="none" stroke="#1c1c1c" stroke-width="0.9"/>
<circle cx="650.5" cy="435.1" r="2.4" fill="none" stroke="#1c1c1c" stroke-width="0.9"/>
<circle cx="650.5" cy="438.4" r="2.4" fill="none" stroke="#1c1c1c" stroke-width="0.9"/>
<circle cx="650.5" cy="448.5" r="2.4" fill="none" stroke="#1c1c1c" stroke-width="0.9"/>
<circle cx="650.5" cy="456.2" r="2.4" fill="none" stroke="#1c1c1c" stroke-width="0.9"/>
<circle cx="650.5" cy="474.3" r="2.4" fill="none" stroke="#1c1c1c" stroke-width="0.9"/>
<circle cx="650.5" cy="479.3" r="2.4" fill="none" stroke="#1c1c1c" stroke-width="0.9"/>
<circle cx="650.5" cy="484.1" r="2.4" fill="none" stroke="#1c1c1c" stroke-width="0.9"/>
<circle cx="650.5" cy="487.9" r="2.4" fill="none" stroke="#1c1c1c" stroke-width="0.9"/>
<circle cx="650.5" cy="511" r="2.4" fill="none" stroke="#1c1c1c" stroke-width="0.9"/>
<circle cx="650.5" cy="517.2" r="2.4" fill="none" stroke="#1c1c1c" stroke-width="0.9"/>
<text x="477.4" y="687.65" font-size="14.8" text-anchor="middle" font-weight="normal">–</text>
<text x="535.8" y="687.65" font-size="14.8" text-anchor="middle" font-weight="normal">–</text>
<text x="593.9" y="689.6" font-size="16" text-anchor="middle" font-weight="bold">+</text>
<text x="651.5" y="689.6" font-size="16" text-anchor="middle" font-weight="bold">+</text>
<text x="389.6" y="688.3" font-size="14.05" text-anchor="start" font-weight="bold">Pluronic</text>
<text transform="translate(399.2 534.75) rotate(-90)" font-size="16.9" text-anchor="middle" font-weight="bold" stroke="#111" stroke-width="0.12">FluoZin-3 Fluorescence</text>
<text transform="translate(418.6 532.2) rotate(-90)" font-size="16.9" text-anchor="middle" font-weight="bold" stroke="#111" stroke-width="0.12" word-spacing="1.1">Resting / TPA (F/Fmin)</text>
<text x="388" y="403.6" font-size="22.7" text-anchor="start" font-weight="bold">(d)</text>
<rect x="388.7" y="693.4" width="292.3" height="31.5" fill="#fff" stroke="#3c3c3c" stroke-width="1.2"/>
<line x1="447.1" y1="693.4" x2="447.1" y2="724.9" stroke="#3c3c3c" stroke-width="1.2"/>
<line x1="505.6" y1="693.4" x2="505.6" y2="724.9" stroke="#3c3c3c" stroke-width="1.2"/>
<line x1="563.2" y1="693.4" x2="563.2" y2="724.9" stroke="#3c3c3c" stroke-width="1.2"/>
<line x1="622.2" y1="693.4" x2="622.2" y2="724.9" stroke="#3c3c3c" stroke-width="1.2"/>
<line x1="388.7" y1="709.2" x2="681" y2="709.2" stroke="#3c3c3c" stroke-width="1.2"/>
<text x="417.9" y="703" font-size="8.8" text-anchor="middle" font-weight="bold">Mean ± SD</text>
<text x="476.65" y="703" font-size="8.8" text-anchor="middle" font-weight="bold">6.8 ± 4.5</text>
<text x="535.4" y="703" font-size="8.8" text-anchor="middle" font-weight="bold">6.1 ± 4.5</text>
<text x="593.7" y="703" font-size="8.8" text-anchor="middle" font-weight="bold">8.4 ± 4.7</text>
<text x="652.6" y="703" font-size="8.8" text-anchor="middle" font-weight="bold">6.3 ± 4.4</text>
<text x="417.9" y="719.4" font-size="8.8" text-anchor="middle" font-weight="bold">CV</text>
<text x="476.65" y="719.4" font-size="8.8" text-anchor="middle" font-weight="bold">66.5%</text>
<text x="535.4" y="719.4" font-size="8.8" text-anchor="middle" font-weight="bold">74.6%</text>
<text x="593.7" y="719.4" font-size="8.8" text-anchor="middle" font-weight="bold">55.9%</text>
<text x="652.6" y="719.4" font-size="8.8" text-anchor="middle" font-weight="bold">69.5%</text>
</g>
</svg>
</body>
</html>
